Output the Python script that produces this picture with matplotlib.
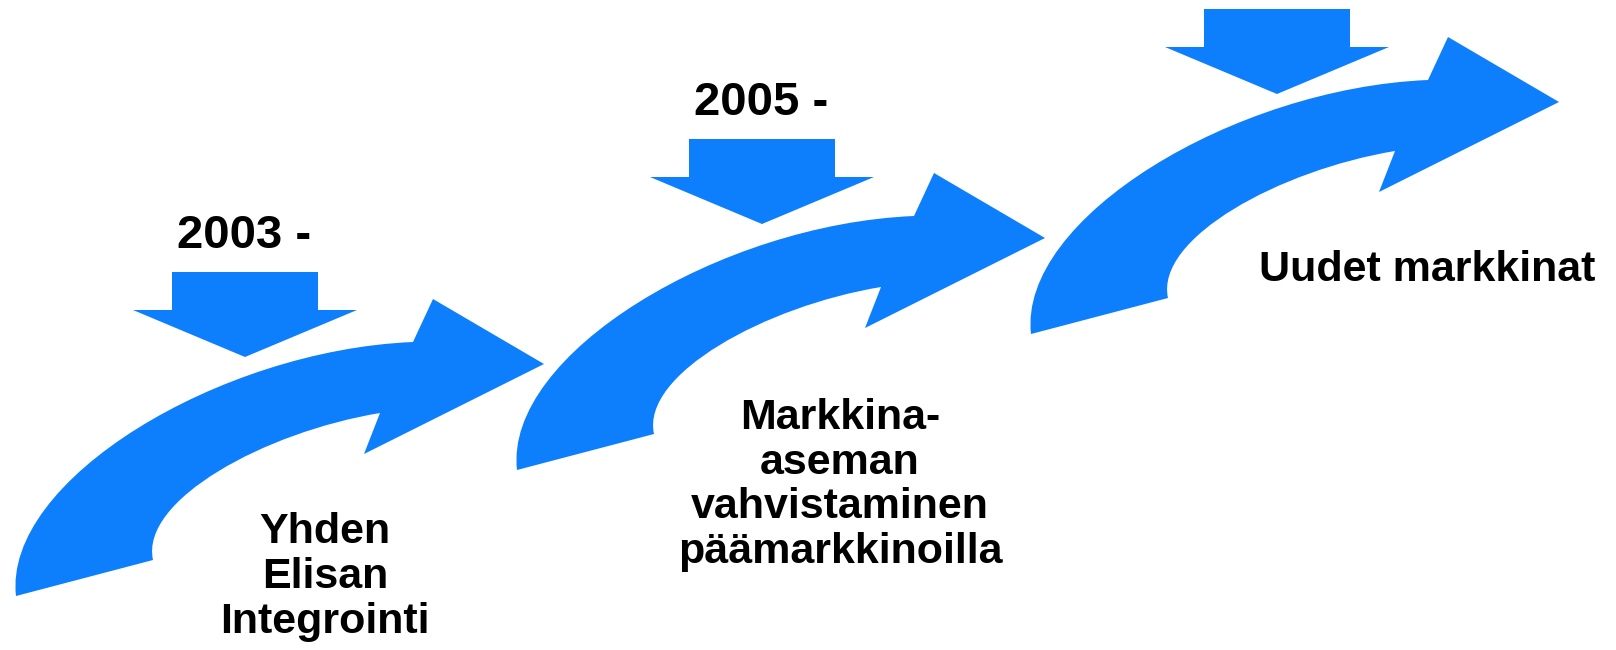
import matplotlib.pyplot as plt
from matplotlib.path import Path
from matplotlib.patches import PathPatch, Polygon

# chart content
years = ['2003 -', '2005 -', '']
stages = ['Yhden\nElisan\nIntegrointi',
          'Markkina-\naseman\nvahvistaminen\npäämarkkinoilla',
          'Uudet markkinat']

# layout (pixel coordinates, y grows downward)
step_offsets = [(0, 0), (501, -126), (1015, -262)]
down_offsets = [(0, 0), (517, -133), (1032, -263)]
year_pos = (244, 236)
stage_pos = [(325, 577), (840, 485), (1427, 270)]

BLUE = '#0D7FFC'


def curved_arrow(ax, dx, dy):
    """Curved arrow sweeping up to the right, template is the first step."""
    pts = [
        (16, 596),                                   # tail, outer
        (3, 480), (220, 350), (413, 342),            # outer edge
        (433, 299),                                  # top barb
        (544, 364),                                  # tip
        (364, 454),                                  # bottom barb
        (380, 413),                                  # inner head base
        (265, 432), (140, 500), (153, 560),          # inner edge
        (16, 596),
    ]
    codes = [Path.MOVETO,
             Path.CURVE4, Path.CURVE4, Path.CURVE4,
             Path.LINETO, Path.LINETO, Path.LINETO, Path.LINETO,
             Path.CURVE4, Path.CURVE4, Path.CURVE4,
             Path.CLOSEPOLY]
    pts = [(x + dx, y + dy) for x, y in pts]
    ax.add_patch(PathPatch(Path(pts, codes), facecolor=BLUE, edgecolor='none'))


def down_arrow(ax, dx, dy):
    pts = [(172, 272), (318, 272), (318, 310), (357, 310),
           (245, 357), (133, 310), (172, 310)]
    pts = [(x + dx, y + dy) for x, y in pts]
    ax.add_patch(Polygon(pts, closed=True, facecolor=BLUE, edgecolor='none'))


fig = plt.figure(figsize=(16.16, 6.5), dpi=100)
ax = fig.add_axes([0, 0, 1, 1])
ax.set_xlim(0, 1616)
ax.set_ylim(650, 0)
ax.axis('off')

font = dict(family=['Liberation Sans', 'DejaVu Sans'], weight='bold', color='black')

for i, (sx, sy) in enumerate(step_offsets):
    curved_arrow(ax, sx, sy)
    dx, dy = down_offsets[i]
    down_arrow(ax, dx, dy)
    if years[i]:
        ax.text(year_pos[0] + dx, year_pos[1] + dy, years[i], ha='center', va='center',
                fontsize=34, **font)
    ax.text(stage_pos[i][0], stage_pos[i][1], stages[i], ha='center', va='center',
            fontsize=31, linespacing=1.15, **font)

fig.savefig('out.png', dpi=100)
